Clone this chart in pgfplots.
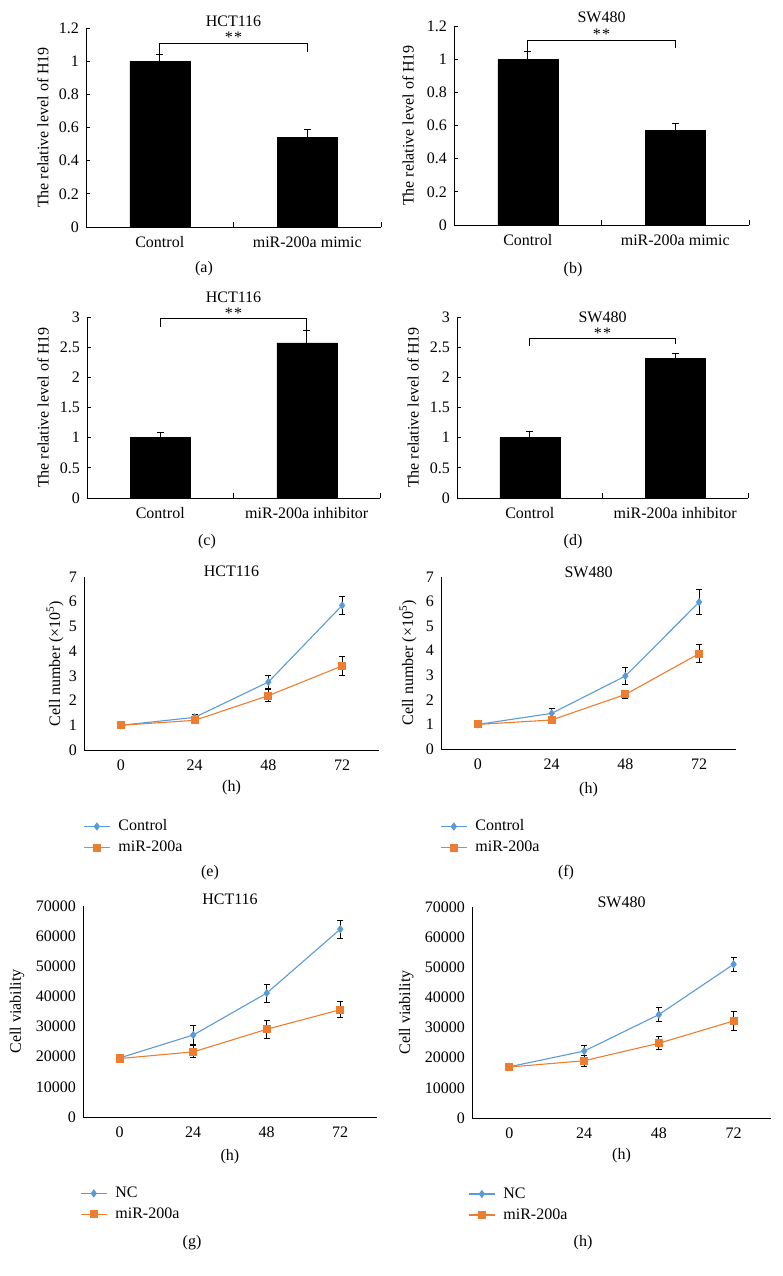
\documentclass[border=0pt]{standalone}
\usepackage{pgfplots}
\pgfplotsset{compat=1.18}
\usepackage{fontspec}
\setmainfont{Liberation Serif}
\definecolor{cblue}{HTML}{5B9BD5}
\definecolor{corange}{HTML}{ED7D31}
\pgfplotsset{
  common/.style={scale only axis, clip=false, anchor=south west,
    axis x line*=bottom, axis y line*=left,
    axis line style={-, line width=0.9pt, black},
    /pgf/number format/assume math mode=true,
    /pgf/number format/1000 sep={},
    scaled y ticks=false,
    yticklabel style={anchor=east, inner sep=0pt, xshift=-7pt},
    xticklabel style={anchor=base, inner sep=0pt, yshift=-21pt},
  },
  barax/.style={common, xmin=-0.5, xmax=1.5, ymin=0, xtick={0,1},
    x tick style={draw=none}, y tick style={line width=0.9pt, black},
    major tick length=4pt, tick align=inside,
    ylabel={The relative level of H19}},
  lineax/.style={common, xmin=-0.5, xmax=3.5, ymin=0, xtick={0,1,2,3},
    xticklabels={0,24,48,72}, major tick length=0pt, tick style={draw=none},
    legend cell align=left,
    legend style={draw=none, fill=none, inner sep=0pt, nodes={inner sep=4pt},
      column sep=4pt, row sep=0pt, anchor=west},
    legend image code/.code={\draw[mark repeat=2,mark phase=2,##1] plot coordinates {(0pt,0pt) (13pt,0pt) (26pt,0pt)};},
    xlabel={(h)}},
  barplot/.style={ybar, bar width=60pt, fill=black, draw=black,
    error bars/y dir=plus, error bars/y explicit,
    error bars/error bar style={black, line width=0.9pt},
    error bars/error mark options={rotate=90, black, line width=0.9pt, mark size=3.5pt}},
  ctrl/.style={cblue, line width=1.1pt, mark=diamond*, mark size=3.3pt,
    mark options={solid, fill=cblue, draw=cblue},
    error bars/y dir=both, error bars/y explicit,
    error bars/error bar style={black, line width=1pt},
    error bars/error mark options={rotate=90, black, line width=1pt, mark size=3pt}},
  mir/.style={corange, line width=1.1pt, mark=square*, mark size=3.5pt,
    mark options={solid, fill=corange, draw=corange},
    error bars/y dir=both, error bars/y explicit,
    error bars/error bar style={black, line width=1pt},
    error bars/error mark options={rotate=90, black, line width=1pt, mark size=3pt}},
}
\newcommand{\stars}{*\hspace{1.5pt}*}
\newcommand{\bticks}{%
  \draw[line width=0.9pt] (axis cs:0.5,0) -- ([yshift=5pt]axis cs:0.5,0);
  \draw[line width=0.9pt] (axis cs:1.5,0) -- ([yshift=5pt]axis cs:1.5,0);}
\begin{document}
\fontsize{16}{19}\selectfont
\begin{tikzpicture}
\useasboundingbox (0,0) rectangle (782pt,1276pt);

% (a)
\begin{axis}[barax, at={(86pt,1049pt)}, width=295pt, height=199pt, ymax=1.2,
  ytick={0,0.2,0.4,0.6,0.8,1,1.2}, xticklabels={Control, miR-200a mimic},
  ylabel style={at={(axis description cs:-0.146,0.5)}, anchor=center}]
\addplot[barplot] coordinates {(0,1.0) +- (0,0.04) (1,0.54) +- (0,0.05)};
\bticks
\draw[line width=0.8pt] (axis cs:0,1.0) |- (axis cs:1,1.11) -- (axis cs:1,1.055);
\node[anchor=base] at (axis cs:0.5,1.11) {\stars};
\node[anchor=base] at (rel axis cs:0.5,1) [yshift=1pt] {HCT116};
\end{axis}

% (b)
\begin{axis}[barax, at={(454pt,1051pt)}, width=295pt, height=199pt, ymax=1.2,
  ytick={0,0.2,0.4,0.6,0.8,1,1.2}, xticklabels={Control, miR-200a mimic},
  ylabel style={at={(axis description cs:-0.156,0.5)}, anchor=center}]
\addplot[barplot] coordinates {(0,1.0) +- (0,0.045) (1,0.57) +- (0,0.04)};
\bticks
\draw[line width=0.8pt] (axis cs:0,1.05) |- (axis cs:1,1.116) -- (axis cs:1,1.07);
\node[anchor=base] at (axis cs:0.5,1.116) {\stars};
\node[anchor=base] at (rel axis cs:0.5,1) [yshift=3pt] {SW480};
\end{axis}

% (c)
\begin{axis}[barax, at={(87pt,778pt)}, width=293pt, height=181pt, ymax=3,
  ytick={0,0.5,1,1.5,2,2.5,3}, xticklabels={Control, miR-200a inhibitor},
  ylabel style={at={(axis description cs:-0.15,0.5)}, anchor=center}]
\addplot[barplot] coordinates {(0,1.0) +- (0,0.09) (1,2.57) +- (0,0.21)};
\bticks
\draw[line width=0.8pt] (axis cs:0,2.84) |- (axis cs:1,2.97) -- (axis cs:1,2.78);
\node[anchor=base] at (axis cs:0.5,2.97) {\stars};
\node[anchor=base] at (rel axis cs:0.5,1) [yshift=14pt] {HCT116};
\end{axis}

% (d)
\begin{axis}[barax, at={(457pt,778pt)}, width=291pt, height=181pt, ymax=3,
  ytick={0,0.5,1,1.5,2,2.5,3}, xticklabels={Control, miR-200a inhibitor},
  ylabel style={at={(axis description cs:-0.151,0.5)}, anchor=center}]
\addplot[barplot] coordinates {(0,1.0) +- (0,0.1) (1,2.31) +- (0,0.09)};
\bticks
\draw[line width=0.8pt] (axis cs:0,2.52) |- (axis cs:1,2.64) -- (axis cs:1,2.55);
\node[anchor=base] at (axis cs:0.5,2.64) {\stars};
\node[anchor=base] at (rel axis cs:0.5,1) [yshift=-6pt] {SW480};
\end{axis}

% (e)
\begin{axis}[lineax, at={(84pt,526pt)}, width=295pt, height=173pt, ymax=7,
  ytick={0,1,2,3,4,5,6,7}, ylabel={Cell number (×10\textsuperscript{5})},
  ylabel style={at={(axis description cs:-0.098,0.5)}, anchor=center},
  xlabel style={at={(axis description cs:0.5,-0.22)}, anchor=center},
  legend style={at={(axis description cs:-0.003,-0.503)}}]
\addplot[ctrl] coordinates {(0,1.0) +- (0,0.03) (1,1.32) +- (0,0.12) (2,2.75) +- (0,0.25) (3,5.85) +- (0,0.37)};
\addplot[mir] coordinates {(0,1.0) +- (0,0.03) (1,1.2) +- (0,0.05) (2,2.2) +- (0,0.24) (3,3.4) +- (0,0.38)};
\legend{Control, miR-200a}
\node[anchor=base] at (rel axis cs:0.5,1) {HCT116};
\end{axis}

% (f)
\begin{axis}[lineax, at={(441pt,527pt)}, width=295pt, height=172pt, ymax=7,
  ytick={0,1,2,3,4,5,6,7}, ylabel={Cell number (×10\textsuperscript{5})},
  ylabel style={at={(axis description cs:-0.112,0.5)}, anchor=center},
  xlabel style={at={(axis description cs:0.5,-0.238)}, anchor=center},
  legend style={at={(axis description cs:-0.003,-0.512)}}]
\addplot[ctrl] coordinates {(0,1.0) +- (0,0.03) (1,1.45) +- (0,0.18) (2,2.97) +- (0,0.33) (3,5.98) +- (0,0.5)};
\addplot[mir] coordinates {(0,1.0) +- (0,0.03) (1,1.18) +- (0,0.05) (2,2.22) +- (0,0.18) (3,3.88) +- (0,0.38)};
\legend{Control, miR-200a}
\node[anchor=base] at (rel axis cs:0.5,1) [yshift=-1pt] {SW480};
\end{axis}

% (g)
\begin{axis}[lineax, at={(83pt,159pt)}, width=294pt, height=211pt, ymax=70000,
  ytick={0,10000,20000,30000,40000,50000,60000,70000}, ylabel={Cell viability},
  ylabel style={at={(axis description cs:-0.224,0.5)}, anchor=center},
  xlabel style={at={(axis description cs:0.5,-0.19)}, anchor=center},
  legend style={at={(axis description cs:-0.010,-0.412)}}]
\addplot[ctrl] coordinates {(0,19600) +- (0,1000) (1,27200) +- (0,3000) (2,41100) +- (0,3000) (3,62300) +- (0,3000)};
\addplot[mir] coordinates {(0,19400) +- (0,1000) (1,21600) +- (0,2000) (2,29100) +- (0,3000) (3,35600) +- (0,2700)};
\legend{NC, miR-200a}
\node[anchor=base] at (rel axis cs:0.5,1) [yshift=2pt] {HCT116};
\end{axis}

% (h)
\begin{axis}[lineax, at={(472pt,158pt)}, width=299pt, height=211pt, ymax=70000,
  ytick={0,10000,20000,30000,40000,50000,60000,70000}, ylabel={Cell viability},
  ylabel style={at={(axis description cs:-0.22,0.5)}, anchor=center},
  xlabel style={at={(axis description cs:0.5,-0.18)}, anchor=center},
  legend style={at={(axis description cs:-0.013,-0.41)}}]
\addplot[ctrl] coordinates {(0,17000) +- (0,800) (1,22200) +- (0,2000) (2,34300) +- (0,2200) (3,51000) +- (0,2400)};
\addplot[mir] coordinates {(0,16900) +- (0,800) (1,19000) +- (0,1800) (2,24800) +- (0,2200) (3,32200) +- (0,3200)};
\legend{NC, miR-200a}
\node[anchor=base] at (rel axis cs:0.5,1) {SW480};
\end{axis}

% panel letters
\node at (204pt,1007pt) {(a)};
\node at (573pt,1006pt) {(b)};
\node at (207pt,734pt) {(c)};
\node at (573pt,734pt) {(d)};
\node at (210pt,403pt) {(e)};
\node at (566pt,403pt) {(f)};
\node at (192pt,33pt) {(g)};
\node at (583pt,33pt) {(h)};
\end{tikzpicture}
\end{document}
